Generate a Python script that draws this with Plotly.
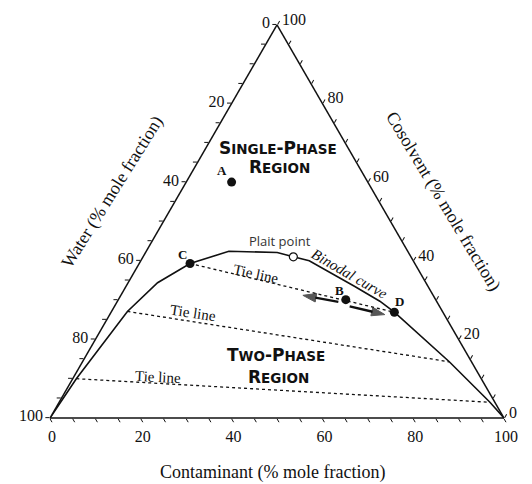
import math
import plotly.graph_objects as go

# ---------------- data (percent mole fraction) ----------------
# a = Cosolvent (top vertex), b = Water (bottom-left), c = Contaminant (bottom-right)
binodal_cosolvent   = [0, 10.0, 27.1, 34.4, 39.3, 42.4, 42.1, 41.0, 40.0, 33.5, 29.7, 26.9, 14.3, 4.0, 0]
binodal_water       = [100, 89.2, 69.4, 59.1, 49.5, 39.4, 28.9, 25.9, 22.9, 16.2, 12.5, 10.7, 4.9, 1.1, 0]
binodal_contaminant = [0, 0.8, 3.5, 6.5, 11.2, 18.2, 29.0, 33.1, 37.1, 50.3, 57.8, 62.4, 80.8, 94.9, 100]

point_names       = ["A", "B", "C", "D"]
point_cosolvent   = [60.0, 30.1, 39.3, 26.9]
point_water       = [30.0, 19.8, 49.5, 10.7]
point_contaminant = [10.0, 50.1, 11.2, 62.4]

plait_cosolvent, plait_water, plait_contaminant = [41.0], [25.9], [33.1]

tie1_cosolvent, tie1_water, tie1_contaminant = [39.3, 26.9], [49.5, 10.7], [11.2, 62.4]
tie2_cosolvent, tie2_water, tie2_contaminant = [27.1, 14.3], [69.4, 4.9], [3.5, 80.8]
tie3_cosolvent, tie3_water, tie3_contaminant = [10.0, 4.0], [89.2, 1.1], [0.8, 94.9]

arrowL_cosolvent, arrowL_water, arrowL_contaminant = [29.5, 31.2], [21.7, 28.7], [48.7, 40.1]
arrowR_cosolvent, arrowR_water, arrowR_contaminant = [28.4, 26.3], [19.8, 13.1], [51.8, 60.6]

tick_values = list(range(0, 101, 5))
major_labels = {0: "100", 20: "80", 40: "60", 60: "40", 80: "20", 100: "0"}
tick_labels = [major_labels.get(v, "") for v in tick_values]

# ---------------- layout geometry ----------------
OFF = 8                      # default page body margin
W_PX, H_PX = 532 - OFF, 484 - OFF
XL, XR, YB = 50.0, 504.0, 418.0     # page pixels
TW = XR - XL
TH = TW * math.sqrt(3) / 2
# reference triangle (for placing free text)
RXL, RXR, RYB, RH = 41.7, 511.5, 415.5, 389.0
RW = RXR - RXL


def ref_to_paper(x, y):
    u = (x - RXL) / RW
    v = (RYB - y) / RH
    px = XL + u * TW - OFF
    py = YB - v * TH - OFF
    return px / W_PX, 1 - py / H_PX


def page_to_paper(x, y):
    return (x - OFF) / W_PX, 1 - (y - OFF) / H_PX


SERIF = "Liberation Serif"
INK = "#111111"

fig = go.Figure()

fig.add_trace(go.Scatterternary(
    a=binodal_cosolvent, b=binodal_water, c=binodal_contaminant,
    mode="lines", line=dict(color=INK, width=1.6), hoverinfo="skip"))

for ca, wb, cc in [(tie1_cosolvent, tie1_water, tie1_contaminant),
                   (tie2_cosolvent, tie2_water, tie2_contaminant),
                   (tie3_cosolvent, tie3_water, tie3_contaminant)]:
    fig.add_trace(go.Scatterternary(
        a=ca, b=wb, c=cc, mode="lines",
        line=dict(color=INK, width=1.3, dash="dot"), hoverinfo="skip"))

for ca, wb, cc in [(arrowL_cosolvent, arrowL_water, arrowL_contaminant),
                   (arrowR_cosolvent, arrowR_water, arrowR_contaminant)]:
    fig.add_trace(go.Scatterternary(
        a=ca, b=wb, c=cc, mode="lines+markers",
        line=dict(color=INK, width=2.4),
        marker=dict(symbol="arrow", size=[0, 14], color=INK, angleref="previous",
                    line=dict(color=INK, width=1)),
        hoverinfo="skip"))

fig.add_trace(go.Scatterternary(
    a=point_cosolvent, b=point_water, c=point_contaminant, mode="markers",
    marker=dict(size=9, color=INK), hoverinfo="skip"))

fig.add_trace(go.Scatterternary(
    a=plait_cosolvent, b=plait_water, c=plait_contaminant, mode="markers",
    marker=dict(size=8, color="white", line=dict(color=INK, width=1.2)), hoverinfo="skip"))


def tern_axis():
    return dict(
        min=0, tickmode="array", tickvals=tick_values, ticktext=tick_labels,
        ticks="outside", ticklen=4, tickwidth=1, tickcolor=INK,
        linecolor=INK, linewidth=1.5, showgrid=False,
        tickfont=dict(family=SERIF, size=16, color=INK),
        title=dict(text=""))


dx0, dy0 = page_to_paper(XL, YB)
dx1, dy1 = page_to_paper(XR, YB - TH)
fig.update_layout(
    width=W_PX, height=H_PX,
    margin=dict(l=0, r=0, t=0, b=0),
    paper_bgcolor="white",
    font=dict(family=SERIF, color=INK),
    showlegend=False,
    ternary=dict(
        sum=100,
        bgcolor="white",
        domain=dict(x=[dx0, dx1], y=[dy0, dy1]),
        aaxis=tern_axis(), baxis=tern_axis(), caxis=tern_axis()))

annots = []


def add_text(x, y, text, size, family=SERIF, angle=0, color=INK, ref=True):
    px, py = ref_to_paper(x, y) if ref else page_to_paper(x, y)
    annots.append(dict(x=px, y=py, xref="paper", yref="paper", text=text,
                       showarrow=False, xanchor="center", yanchor="middle",
                       textangle=angle, font=dict(family=family, size=size, color=color)))


SC = "font-size:13.5px"
add_text(277.5, 148, f"<b>S<span style='{SC}'>INGLE</span>-P<span style='{SC}'>HASE</span></b>", 17, "DejaVu Sans")
add_text(279, 167, f"<b>R<span style='{SC}'>EGION</span></b>", 17, "DejaVu Sans")
add_text(276, 353.5, f"<b>T<span style='{SC}'>WO</span>-P<span style='{SC}'>HASE</span></b>", 17, "DejaVu Sans")
add_text(278, 374.7, f"<b>R<span style='{SC}'>EGION</span></b>", 17, "DejaVu Sans")

add_text(280, 240, "Plait point", 13, "Open Sans", color="#333333")
add_text(351.7, 273.3, "<i>Binodal curve</i>", 15, angle=30)
add_text(255, 272.7, "Tie line", 15, angle=12)
add_text(190, 311.7, "Tie line", 15, angle=8.5)
add_text(153, 375, "Tie line", 15, angle=3)

for name, (lx, ly) in zip(point_names, [(220, 171), (341, 289.3), (179.3, 253.3), (403.3, 300)]):
    add_text(lx, ly, f"<b>{name}</b>", 13)

add_text(106.7, 191.7, "Water (% mole fraction)", 18, angle=-58)
add_text(448.3, 201.7, "Cosolvent (% mole fraction)", 18, angle=59)
add_text(272, 472, "Contaminant (% mole fraction)", 18, ref=False)

fig.update_layout(annotations=annots)
fig.write_html("out.html")
